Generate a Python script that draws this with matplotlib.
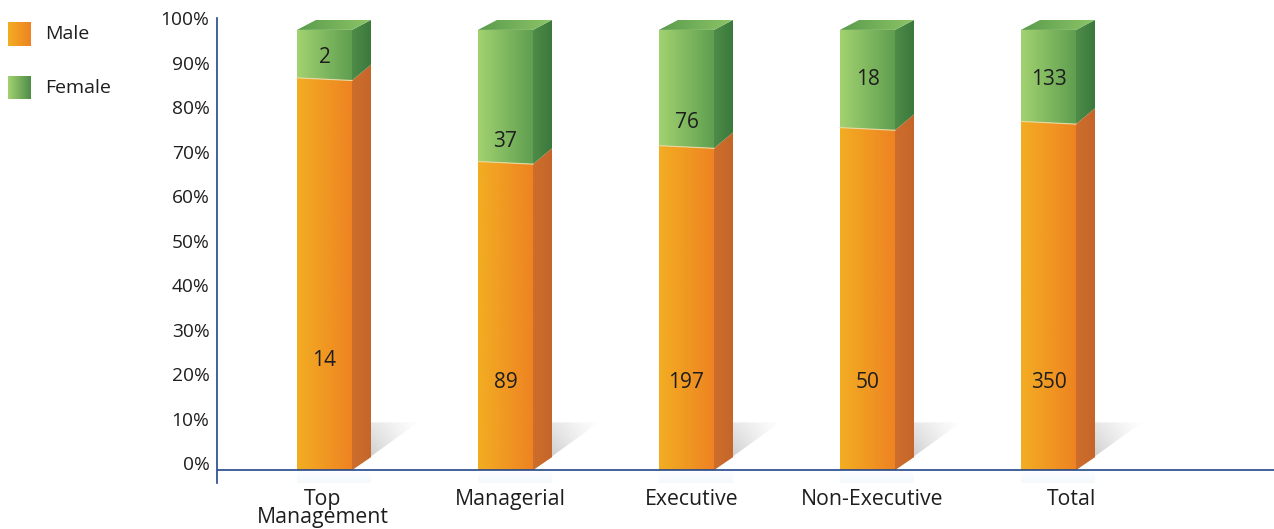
import numpy as np
import matplotlib
matplotlib.use('Agg')
import matplotlib.pyplot as plt
from matplotlib.patches import Polygon
from matplotlib.colors import to_rgb

plt.rcParams['font.family'] = ['Open Sans', 'DejaVu Sans']

# data
categories = ['Top\nManagement', 'Managerial', 'Executive', 'Non-Executive', 'Total']
male_counts = [14, 89, 197, 50, 350]
female_counts = [2, 37, 76, 18, 133]
male_share = [0.885, 0.695, 0.731, 0.772, 0.786]   # height of the orange part (0..1)
ytick_vals = [0, 10, 20, 30, 40, 50, 60, 70, 80, 90, 100]

# where the count labels sit (fraction of the bar)
male_label_y = [0.25, 0.20, 0.20, 0.20, 0.20]
female_label_y = [0.938, 0.747, 0.79, 0.887, 0.887]
# category label nudge in px
cat_shift = [-2, 5, 5, 5, 23]

TEXT = '#1e1e1e'
AXIS = '#24468a'

W, H = 1274, 529
fig = plt.figure(figsize=(W / 100, H / 100), dpi=100)
fig.patch.set_facecolor('white')

# axes in pixel terms: left 216.5, right 1274, bottom 483, top 18
ax = fig.add_axes([216.5 / W, (H - 483) / H, (W - 216.5) / W, (483 - 18) / H])
ax.set_facecolor('none')

step = 181.0      # px between bars
unit = 443.0      # px for 100 %
bw = 55 / step    # front face width
dx = 19 / step    # depth offset
dy = 10 / unit


def grad_fill(a, verts, c0, c1, z, vertical=False, alpha=1.0):
    poly = Polygon(verts, closed=True, facecolor='none', edgecolor='none')
    a.add_patch(poly)
    xs = [v[0] for v in verts]
    ys = [v[1] for v in verts]
    t = np.linspace(0, 1, 64)[:, None]
    col = np.array(to_rgb(c0)) + (np.array(to_rgb(c1)) - np.array(to_rgb(c0))) * t
    img = col[:, None, :] if vertical else col[None, :, :]
    im = a.imshow(img, extent=(min(xs), max(xs), min(ys), max(ys)), origin='lower',
                  aspect='auto', zorder=z, interpolation='bicubic', alpha=alpha)
    im.set_clip_path(poly)
    return im


for i, (m, mc, fc) in enumerate(zip(male_share, male_counts, female_counts)):
    x0 = i - bw / 2
    x1 = i + bw / 2
    slant = 0.006

    # floor shadow
    sh = Polygon([(x1, 0), (x1 + 66 / step, 48 / unit), (x1 + dx, 48 / unit)], closed=True,
                 facecolor='none', edgecolor='none')
    ax.add_patch(sh)
    gx, gy = np.meshgrid(np.linspace(0, 1, 80), np.linspace(0, 1, 80))
    shade = np.clip(1 - (1 - gx) * (1 - 0.6 * gy) * 0.32, 0, 1)
    img = np.dstack([shade, shade, shade])
    im = ax.imshow(img, extent=(x1, x1 + 66 / step, 0, 48 / unit), origin='lower',
                   aspect='auto', zorder=1, interpolation='bicubic')
    im.set_clip_path(sh)

    # faint reflection under the bar
    grad_fill(ax, [(x0, 0), (x1 + dx, 0), (x1 + dx, -0.035), (x0, -0.035)],
              '#f2f8fc', '#ffffff', 1, vertical=True)

    # male front
    grad_fill(ax, [(x0, 0), (x1, 0), (x1, m), (x0, m + slant)], '#f3ad22', '#ee8322', 3)
    # male side
    grad_fill(ax, [(x1, 0), (x1 + dx, dy * 1.3), (x1 + dx, m + dy * 1.6), (x1, m)],
              '#cd6e2c', '#c6652a', 3)
    # female front
    grad_fill(ax, [(x0, m + slant), (x1, m), (x1, 1), (x0, 1)], '#a2d270', '#5f9f50', 3)
    # female side
    grad_fill(ax, [(x1, m), (x1 + dx, m + dy * 1.6), (x1 + dx, 1 + dy), (x1, 1)],
              '#4f8c49', '#3a793c', 3)
    # top face
    grad_fill(ax, [(x0, 1), (x1, 1), (x1 + dx, 1 + dy), (x0 + dx, 1 + dy)],
              '#5a9c4c', '#8cc467', 3)
    # thin highlight on the split line
    ax.plot([x0, x1], [m + slant, m], color='#e8d9a0', lw=0.8, zorder=4)

    ax.text(i, male_label_y[i], str(mc), ha='center', va='center',
            fontsize=15, color=TEXT, zorder=5)
    ax.text(i, female_label_y[i], str(fc), ha='center', va='center',
            fontsize=15, color=TEXT, zorder=5)

ax.axhline(0, color=AXIS, lw=1.2, zorder=6)

ax.set_xlim((216.5 - 324.5) / step, (1274 - 324.5) / step)
ax.set_ylim((470 - 483) / unit, (470 - 18) / unit)

ax.set_yticks([v / 100 * 1.011 + 0.016 for v in ytick_vals])
ax.set_yticklabels([f'{v}%' for v in ytick_vals], fontsize=13.8, color=TEXT)
ax.set_xticks([i + cat_shift[i] / step for i in range(len(categories))])
ax.set_xticklabels(categories, fontsize=15.3, color=TEXT)
for lab in ax.get_xticklabels():
    lab.set_linespacing(0.85)
ax.tick_params(length=0)
ax.tick_params(axis='y', pad=5)
ax.tick_params(axis='x', pad=4)

for s in ['top', 'right', 'bottom']:
    ax.spines[s].set_visible(False)
ax.spines['left'].set_color(AXIS)
ax.spines['left'].set_linewidth(1.2)

# legend in pixel coordinates
lg = fig.add_axes([0, 0, 1, 1])
lg.axis('off')
lg.set_facecolor('none')
grad_fill(lg, [(8, 22), (31, 22), (31, 46), (8, 46)], '#f3ad22', '#ee8322', 2)
grad_fill(lg, [(8, 76), (31, 76), (31, 99), (8, 99)], '#a2d270', '#4f8c49', 2)
lg.set_xlim(0, W)
lg.set_ylim(H, 0)
lg.text(45, 34, 'Male', fontsize=14, color=TEXT, va='center', ha='left')
lg.text(45, 88, 'Female', fontsize=14, color=TEXT, va='center', ha='left')

fig.savefig('out.png', dpi=100)
